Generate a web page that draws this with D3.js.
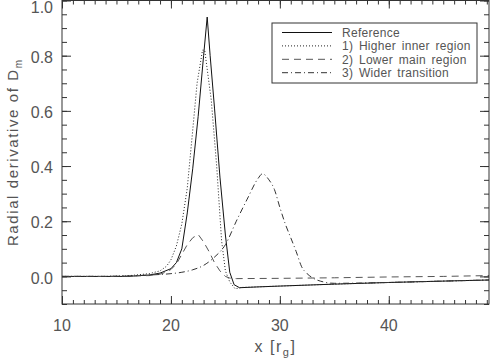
<!DOCTYPE html>
<html lang="en">
<head>
<meta charset="UTF-8">
<title>Radial derivative of Dm</title>
<script src="https://d3js.org/d3.v7.min.js"></script>
<style>
    body { margin: 0; background: #fff; }
    svg { display: block; }
    text { font-family: "Liberation Sans", Arial, sans-serif; fill: #555; }
</style>
</head>
<body>
<script>
// ---- data ----
var xRef = [10, 12, 14, 16, 18, 19, 20, 20.5, 21, 21.5, 22, 22.5, 23, 23.33, 23.6, 24, 24.5, 25, 25.4, 25.8, 26.3, 28, 30, 35, 40, 45, 49.2]
var yRef = [0, 0, 0, 0, 0.005, 0.012, 0.028, 0.05, 0.1, 0.23, 0.39, 0.58, 0.8, 0.94, 0.8, 0.61, 0.36, 0.15, 0.015, -0.03, -0.041, -0.038, -0.035, -0.028, -0.022, -0.017, -0.013]

var xInner = [10, 14, 16, 18, 19, 19.6, 20, 20.5, 21, 21.5, 22, 22.4, 22.9, 23.1, 23.7, 24.2, 24.65, 25, 25.4, 25.9, 26.5, 30, 35, 40, 45, 49.2]
var yInner = [0, 0, 0.002, 0.01, 0.02, 0.037, 0.06, 0.11, 0.19, 0.32, 0.53, 0.7, 0.82, 0.82, 0.64, 0.4, 0.13, 0.02, -0.02, -0.045, -0.04, -0.035, -0.028, -0.022, -0.017, -0.013]

var xMain = [10, 14, 18, 19, 19.5, 20, 20.5, 21, 21.5, 22, 22.5, 23, 23.5, 24, 24.5, 25, 25.4, 26, 30, 35, 40, 45, 49.2]
var yMain = [0, 0, 0.003, 0.008, 0.015, 0.025, 0.045, 0.08, 0.115, 0.14, 0.152, 0.125, 0.09, 0.05, 0.02, 0.0, -0.006, -0.008, -0.007, -0.005, -0.002, 0.0, 0.003]

var xWide = [10, 14, 18, 20, 21, 22, 23, 24, 25, 26, 27, 28, 28.4, 29, 29.5, 30, 30.5, 31, 31.5, 32, 32.5, 33, 34, 35, 40, 45, 49.2]
var yWide = [0, 0, 0.005, 0.01, 0.015, 0.024, 0.04, 0.07, 0.115, 0.2, 0.28, 0.355, 0.372, 0.35, 0.315, 0.25, 0.19, 0.14, 0.09, 0.035, 0.01, -0.005, -0.02, -0.025, -0.022, -0.017, -0.013]

var seriesNames = ['Reference', '1) Higher inner region', '2) Lower main region', '3) Wider transition']
var yTickLabels = [0.0, 0.2, 0.4, 0.6, 0.8, 1.0]
var xTickLabels = [10, 20, 30, 40]

var w = 491, h = 360
var pLeft = 62, pRight = 489, pTop = 0.5, pBottom = 304

var svg = d3.select('body').append('svg')
    .attr('width', w)
    .attr('height', h)

var xScale = d3.scaleLinear().domain([10, 49.2]).range([pLeft, pRight])
var yScale = d3.scaleLinear().domain([-0.1, 1.0]).range([pBottom, pTop])

// styles for the four lines
var styles = [
    { color: '#111', dash: null, width: 1 },
    { color: '#222', dash: '1,2', width: 1 },
    { color: '#555', dash: '7,5', width: 1 },
    { color: '#333', dash: '6,3,1,3', width: 1 }
]

var series = [
    d3.zip(xRef, yRef),
    d3.zip(xInner, yInner),
    d3.zip(xMain, yMain),
    d3.zip(xWide, yWide)
]

// clip to the plot box
svg.append('clipPath').attr('id', 'clip')
    .append('rect')
    .attr('x', pLeft).attr('y', pTop)
    .attr('width', pRight - pLeft).attr('height', pBottom - pTop)

var line = d3.line()
    .x((d) => xScale(d[0]))
    .y((d) => yScale(d[1]))

var lineSmooth = d3.line()
    .x((d) => xScale(d[0]))
    .y((d) => yScale(d[1]))
    .curve(d3.curveMonotoneX)

svg.append('g').attr('clip-path', 'url(#clip)')
    .selectAll('path')
    .data(series)
    .enter()
    .append('path')
    .attr('d', (d, i) => i == 3 ? lineSmooth(d) : line(d))
    .attr('fill', 'none')
    .attr('stroke', (d, i) => styles[i].color)
    .attr('stroke-width', (d, i) => styles[i].width)
    .attr('stroke-dasharray', (d, i) => styles[i].dash)

// axes, ticks pointing inward on all four sides
function tickStyle(g) {
    g.select('.domain').remove()
    g.selectAll('.tick line').attr('stroke', '#333')
}

svg.append('g')
    .attr('transform', 'translate(0,' + pBottom + ')')
    .call(d3.axisBottom(xScale).tickValues(d3.range(10, 50, 1)).tickSize(-4).tickFormat(''))
    .call(tickStyle)
svg.append('g')
    .attr('transform', 'translate(0,' + pBottom + ')')
    .call(d3.axisBottom(xScale).tickValues(xTickLabels).tickSize(-8).tickFormat(''))
    .call(tickStyle)
svg.append('g')
    .attr('transform', 'translate(0,' + pTop + ')')
    .call(d3.axisTop(xScale).tickValues(d3.range(10, 50, 1)).tickSize(-4).tickFormat(''))
    .call(tickStyle)
svg.append('g')
    .attr('transform', 'translate(0,' + pTop + ')')
    .call(d3.axisTop(xScale).tickValues(xTickLabels).tickSize(-8).tickFormat(''))
    .call(tickStyle)

var yMinor = d3.range(-0.1, 1.001, 0.05).map((v) => Math.round(v * 100) / 100)
svg.append('g')
    .attr('transform', 'translate(' + pLeft + ',0)')
    .call(d3.axisLeft(yScale).tickValues(yMinor).tickSize(-5).tickFormat(''))
    .call(tickStyle)
svg.append('g')
    .attr('transform', 'translate(' + pLeft + ',0)')
    .call(d3.axisLeft(yScale).tickValues(yTickLabels).tickSize(-9).tickFormat(''))
    .call(tickStyle)
svg.append('g')
    .attr('transform', 'translate(' + pRight + ',0)')
    .call(d3.axisRight(yScale).tickValues(yMinor).tickSize(-5).tickFormat(''))
    .call(tickStyle)
svg.append('g')
    .attr('transform', 'translate(' + pRight + ',0)')
    .call(d3.axisRight(yScale).tickValues(yTickLabels).tickSize(-9).tickFormat(''))
    .call(tickStyle)

// frame
svg.append('rect')
    .attr('x', pLeft).attr('y', pTop)
    .attr('width', pRight - pLeft).attr('height', pBottom - pTop)
    .attr('fill', 'none')
    .attr('stroke', '#333')

// tick labels
svg.selectAll('.ylab')
    .data(yTickLabels)
    .enter()
    .append('text')
    .attr('class', 'ylab')
    .attr('x', pLeft - 9)
    .attr('y', (d) => Math.max(yScale(d) + 1.5, 7))
    .attr('dy', '0.35em')
    .attr('text-anchor', 'end')
    .attr('font-size', 16)
    .text((d) => d.toFixed(1))

svg.selectAll('.xlab')
    .data(xTickLabels)
    .enter()
    .append('text')
    .attr('class', 'xlab')
    .attr('x', (d) => xScale(d))
    .attr('y', 331)
    .attr('text-anchor', 'middle')
    .attr('font-size', 16)
    .text((d) => d)

// axis titles
var xt = svg.append('text')
    .attr('x', (pLeft + pRight) / 2)
    .attr('y', 352)
    .attr('text-anchor', 'middle')
    .attr('font-size', 16)
    .attr('letter-spacing', 1.5)
xt.append('tspan').text('x [r')
xt.append('tspan').attr('font-size', 11).attr('dy', 4).text('g')
xt.append('tspan').attr('dy', -4).text(']')

var yt = svg.append('text')
    .attr('transform', 'translate(18,' + (pTop + pBottom) / 2 + ') rotate(-90)')
    .attr('text-anchor', 'middle')
    .attr('font-size', 15)
    .attr('letter-spacing', 1.6)
yt.append('tspan').text('Radial derivative of D')
yt.append('tspan').attr('font-size', 10).attr('dy', 4).text('m')

// legend
var legend = svg.append('g')
legend.append('rect')
    .attr('x', 272).attr('y', 23)
    .attr('width', 205).attr('height', 60)
    .attr('fill', '#fff')
    .attr('stroke', '#333')

var rowY = d3.scaleLinear().domain([0, 3]).range([32.5, 72.7])

legend.selectAll('line')
    .data(seriesNames)
    .enter()
    .append('line')
    .attr('x1', 282).attr('x2', 332)
    .attr('y1', (d, i) => rowY(i)).attr('y2', (d, i) => rowY(i))
    .attr('stroke', (d, i) => styles[i].color)
    .attr('stroke-dasharray', (d, i) => styles[i].dash)

legend.selectAll('text')
    .data(seriesNames)
    .enter()
    .append('text')
    .attr('x', 342)
    .attr('y', (d, i) => rowY(i))
    .attr('dy', '0.35em')
    .attr('font-size', 12)
    .attr('letter-spacing', 0.3)
    .attr('word-spacing', 2)
    .text((d) => d)
</script>
</body>
</html>
